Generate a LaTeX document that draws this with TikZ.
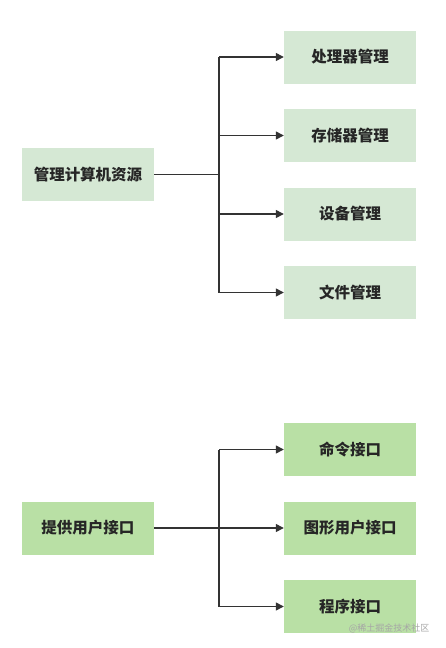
\documentclass[tikz,border=0pt]{standalone}
\usepackage{fontspec}
\setmainfont{Noto Sans CJK SC}
\usetikzlibrary{arrows.meta}
\definecolor{paleGreen}{HTML}{D5E8D4}
\definecolor{leafGreen}{HTML}{B9E0A5}

\begin{document}
\begin{tikzpicture}[x=1pt, y=-1pt,
  box/.style={rectangle, minimum width=132pt, minimum height=53pt, inner sep=0pt,
    font=\fontsize{15.5}{17}\selectfont\bfseries, text=black!85},
  line/.style={line width=1.3pt, black!80},
  arr/.style={line, -{Triangle[length=8pt, width=8pt]}}]
  \useasboundingbox (0,0) rectangle (446,648);
  % 上半部分: 管理计算机资源
  \node[box, fill=paleGreen] (mgr) at (88,174.5) {管理计算机资源};
  \node[box, fill=paleGreen] (cpu) at (350,57) {处理器管理};
  \node[box, fill=paleGreen] (mem) at (350,135.5) {存储器管理};
  \node[box, fill=paleGreen] (dev) at (350,214) {设备管理};
  \node[box, fill=paleGreen] (fil) at (350,292.5) {文件管理};
  \coordinate (j1) at (219,0);
  \draw[line] (mgr.east) -- (mgr.east -| j1);
  \draw[line] (cpu.west -| j1) -- (fil.west -| j1);
  \foreach \n in {cpu,mem,dev,fil}
    \draw[arr] (\n.west -| j1) -- (\n.west);
  % 下半部分: 提供用户接口
  \node[box, fill=leafGreen] (ui) at (88,528) {提供用户接口};
  \node[box, fill=leafGreen] (cmd) at (350,449.5) {命令接口};
  \node[box, fill=leafGreen] (gui) at (350,528) {图形用户接口};
  \node[box, fill=leafGreen] (api) at (350,606.5) {程序接口};
  \coordinate (j2) at (219,0);
  \draw[line] (ui.east) -- (ui.east -| j2);
  \draw[line] (cmd.west -| j2) -- (api.west -| j2);
  \foreach \n in {cmd,gui,api}
    \draw[arr] (\n.west -| j2) -- (\n.west);
  \node[font=\fontsize{9}{10}\selectfont, text=black!35, anchor=east] (mark) at (433,628) {@稀土掘金技术社区};
\end{tikzpicture}
\end{document}
